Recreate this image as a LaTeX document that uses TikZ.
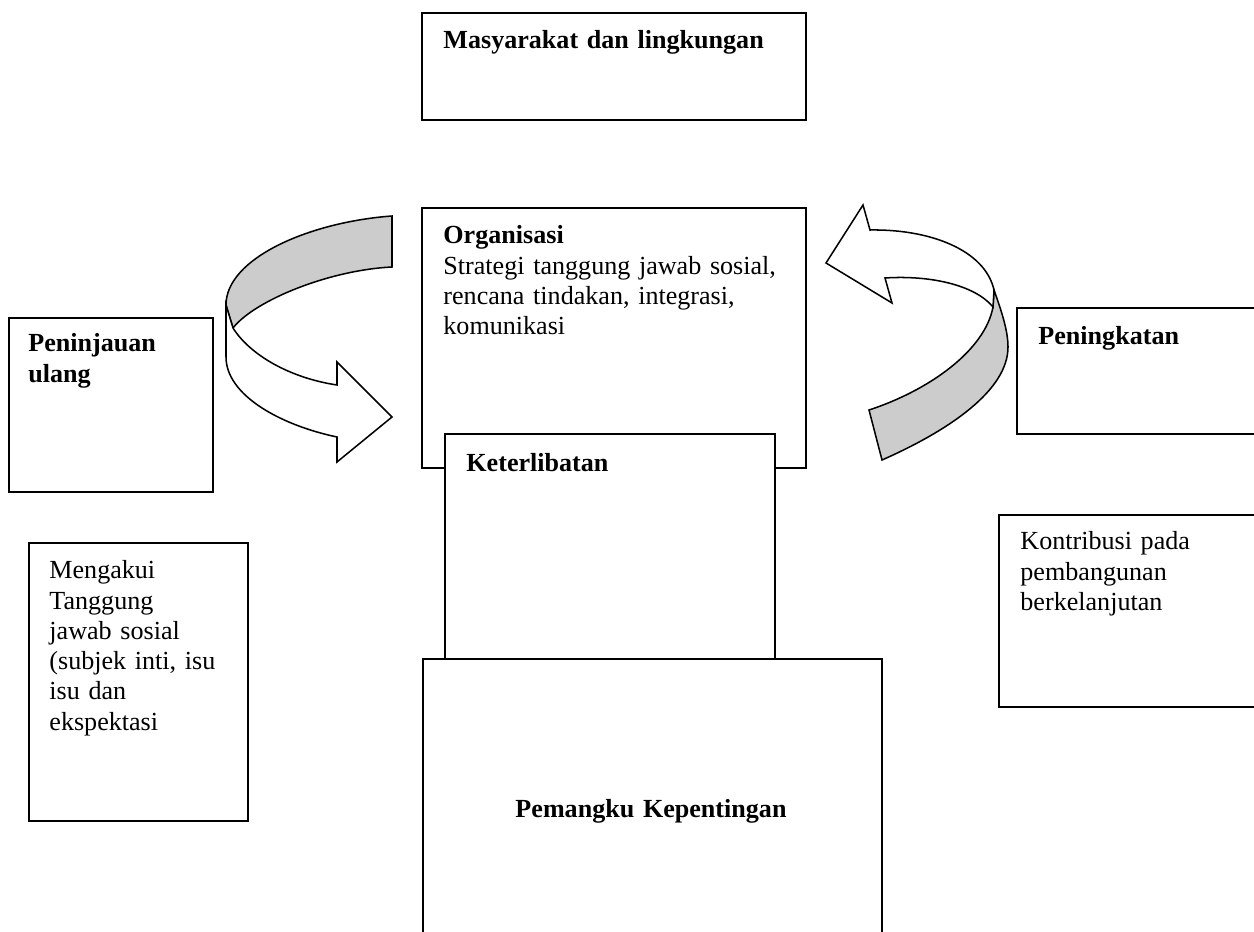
\documentclass[tikz,border=0pt]{standalone}
\usepackage{fontspec}
\setmainfont{Liberation Serif}

\begin{document}
\begin{tikzpicture}[x=.46pt,y=-.46pt,
  box/.style={draw,line width=.9pt,fill=white,inner sep=0pt,anchor=north west},
  txt/.style={anchor=base west,inner sep=0pt,text width=#1,align=left,font=\fontsize{12pt}{13.9pt}\selectfont},
  txt/.default=200pt,
  band/.style={draw,line width=.7pt,line join=miter}]
\useasboundingbox (0,0) rectangle (1254,932);
\clip (0,0) rectangle (1254,932);
% top
\node[box,minimum width=384*.46pt,minimum height=107*.46pt] (soc) at (421,12) {};
\node[txt] (socT) at (443,49) {\bfseries Masyarakat dan lingkungan};
% centre column
\node[box,minimum width=384*.46pt,minimum height=260*.46pt] (org) at (421,207) {};
\node[txt] (orgT) at (443,244) {\textbf{Organisasi}\\Strategi tanggung jawab sosial,\\rencana tindakan, integrasi,\\komunikasi};
\node[box,minimum width=330*.46pt,minimum height=227*.46pt] (ket) at (444,433) {};
\node[txt] (ketT) at (466,472) {\bfseries Keterlibatan};
\node[box,minimum width=459*.46pt,minimum height=300*.46pt] (stk) at (422,658) {};
\node[txt,anchor=base,align=center] (stkT) at (651,817) {\bfseries Pemangku Kepentingan};
% left
\node[box,minimum width=204*.46pt,minimum height=174*.46pt] (rev) at (8,317) {};
\node[txt] (revT) at (28,352) {\bfseries Peninjauan\\ulang};
\node[box,minimum width=219*.46pt,minimum height=278*.46pt] (ack) at (28,542) {};
\node[txt] (ackT) at (49,579) {Mengakui\\Tanggung\\jawab sosial\\(subjek inti, isu\\isu dan\\ekspektasi};
% right
\node[box,minimum width=260*.46pt,minimum height=126*.46pt] (imp) at (1016,307) {};
\node[txt] (impT) at (1038,345) {\bfseries Peningkatan};
\node[box,minimum width=280*.46pt,minimum height=192*.46pt] (con) at (998,514) {};
\node[txt] (conT) at (1020,550) {Kontribusi pada\\pembangunan\\berkelanjutan};
% curved arrows
\filldraw[band,fill=black!20] (226,305) .. controls (226,258) and (310,222) .. (392,216) -- (392,267) .. controls (330,270) and (255,300) .. (233,328) -- cycle;
\filldraw[band,fill=white] (226,305) -- (233,328) .. controls (250,355) and (290,378) .. (337,385) -- (337,362) -- (392,417) -- (337,462) -- (337,437) .. controls (280,425) and (226,395) .. (226,357) -- cycle;
\filldraw[band,fill=black!20] (994,290) .. controls (1001,310) and (1008,330) .. (1008,347) .. controls (1008,390) and (950,430) .. (882,460) -- (869,410) .. controls (930,390) and (985,350) .. (993,307) -- cycle;
\filldraw[band,fill=white] (870,230) .. controls (930,229) and (985,250) .. (994,290) -- (993,307) .. controls (975,285) and (930,275) .. (885,278) -- (892,303) -- (826,263) -- (863,205) -- cycle;
\end{tikzpicture}
\end{document}
